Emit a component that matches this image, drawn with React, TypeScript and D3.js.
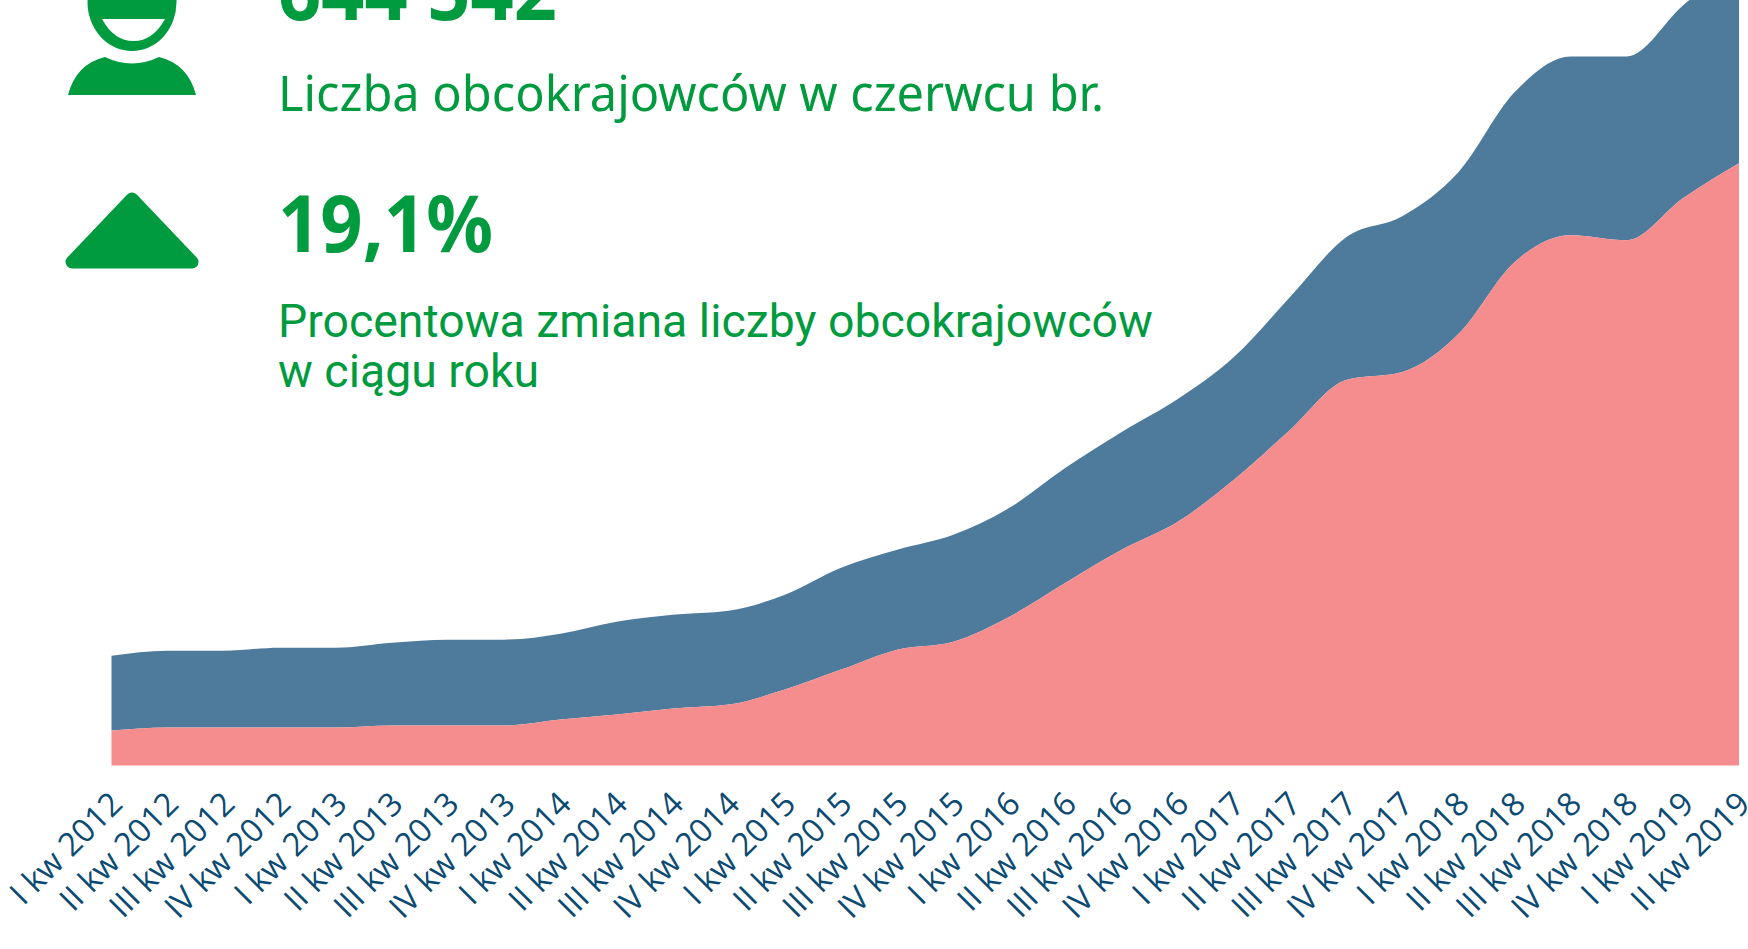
import React from "react";
import * as d3 from "d3";

const quarters = ["I", "II", "III", "IV"];
const years = [2012, 2013, 2014, 2015, 2016, 2017, 2018, 2019];
const categories = years
  .flatMap((y) => quarters.map((q) => `${q} kw ${y}`))
  .slice(0, 30);

// thousands of people
const pinkValues = [28, 30.4, 30.4, 30.4, 30.4, 32, 32, 32, 36.8, 40.8, 45.6, 48.8, 60.8, 76.8, 92.8, 99.2, 119.2, 146.4, 172.8, 195.2, 228.8, 268.8, 308.8, 315.2, 345.6, 403.2, 424.8, 420.8, 454.4, 482.4];
const blueValues = [60, 61.6, 61.6, 64, 64, 66.4, 68.8, 68.8, 68.8, 74.4, 75.2, 75.2, 76, 81.6, 80, 85.6, 87.2, 92, 94.4, 98.4, 98.4, 106.4, 114.4, 124.8, 129.6, 136, 143.2, 147.2, 154.4, 162.4];

const GREEN = "#009a3f";
const BLUE = "#4e7a9b";
const PINK = "#f58c8d";
const LABEL = "#0b4a72";
const TITLE_FONT = "'Noto Sans', sans-serif";

export default function App() {
  const x = d3.scalePoint<string>().domain(categories).range([111.5, 1739]);
  const y = d3.scaleLinear().domain([0, 644.8]).range([765.5, -39.5]);
  const rows = categories.map((c, i) => ({ c, pink: pinkValues[i], blue: blueValues[i] }));
  const stacked = d3.stack<any>().keys(["pink", "blue"])(rows);
  const area = d3
    .area<any>()
    .x((d) => x(d.data.c) as number)
    .y0((d) => y(d[0]))
    .y1((d) => y(d[1]))
    .curve(d3.curveMonotoneX);

  return (
    <svg
      width={1748}
      height={949}
      style={{ position: "fixed", left: 0, top: 0, background: "#fff" }}
    >
      <path d={area(stacked[1] as any) ?? ""} fill={BLUE} />
      <path d={area(stacked[0] as any) ?? ""} fill={PINK} />

      {categories.map((c) => (
        <text
          key={c}
          transform={`translate(${(x(c) as number) - 7},786) rotate(-45)`}
          textAnchor="end"
          dominantBaseline="hanging"
          fontFamily="'Open Sans', sans-serif"
          fontSize={32.5}
          fill={LABEL}
        >
          {c}
        </text>
      ))}

      {/* person icon */}
      <ellipse cx={132} cy={2} rx={44.5} ry={49} fill={GREEN} />
      <path d="M102,19 H165 Q153,41 133.5,41 Q114,41 102,19 Z" fill="#fff" />
      <path
        d="M68,95 Q76,64 105,57 Q132,70 159,57 Q188,64 196,95 Z"
        fill={GREEN}
      />
      {/* up triangle */}
      <path
        d="M132,199 L192,262 H72 Z"
        fill={GREEN}
        stroke={GREEN}
        strokeWidth={13}
        strokeLinejoin="round"
      />

      <text x={278} y={20} fontFamily={TITLE_FONT} fontWeight={700} fontSize={78} fill={GREEN} textLength={279} lengthAdjust="spacingAndGlyphs">
        644 542
      </text>
      <text x={278} y={111} fontFamily={TITLE_FONT} fontSize={50} fill={GREEN} textLength={826} lengthAdjust="spacingAndGlyphs">
        Liczba obcokrajowców w czerwcu br.
      </text>
      <text x={278} y={252} fontFamily={TITLE_FONT} fontWeight={700} fontSize={78} fill={GREEN} textLength={215} lengthAdjust="spacingAndGlyphs">
        19,1%
      </text>
      <text x={278} y={337} fontFamily="Roboto, sans-serif" fontSize={46.4} fill={GREEN}>
        Procentowa zmiana liczby obcokrajowców
      </text>
      <text x={278} y={387} fontFamily="Roboto, sans-serif" fontSize={46.4} fill={GREEN}>
        w ciągu roku
      </text>
    </svg>
  );
}
